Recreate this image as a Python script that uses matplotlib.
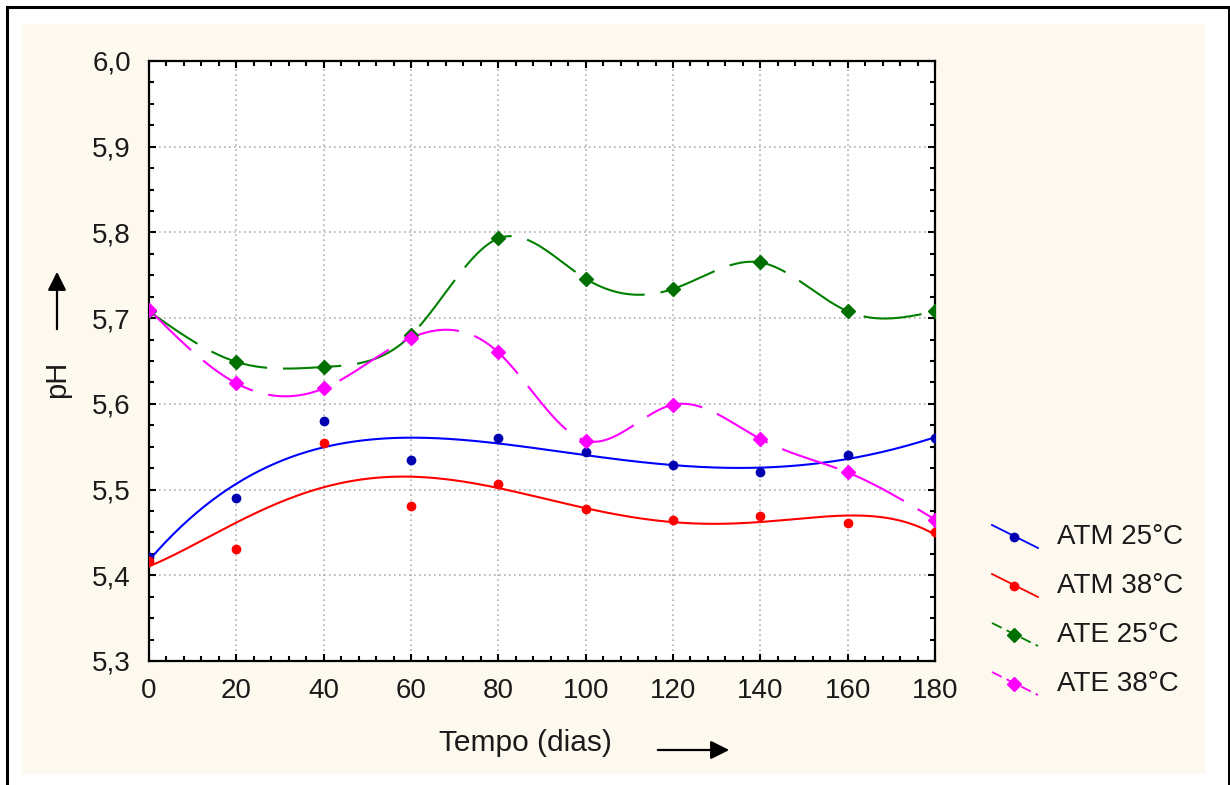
import numpy as np
import matplotlib.pyplot as plt
from matplotlib.lines import Line2D
from matplotlib.patches import Rectangle, FancyArrowPatch
from matplotlib.ticker import MultipleLocator, FuncFormatter

plt.rcParams['font.family'] = ['Liberation Sans', 'DejaVu Sans']

# dados
tempo = np.array([0, 20, 40, 60, 80, 100, 120, 140, 160, 180], dtype=float)
atm_25 = np.array([5.421, 5.490, 5.580, 5.535, 5.560, 5.544, 5.529, 5.520, 5.540, 5.560])
atm_38 = np.array([5.417, 5.431, 5.554, 5.481, 5.506, 5.477, 5.465, 5.469, 5.461, 5.450])
ate_25 = np.array([5.708, 5.649, 5.643, 5.680, 5.793, 5.746, 5.734, 5.765, 5.708, 5.708])
ate_38 = np.array([5.710, 5.624, 5.618, 5.677, 5.660, 5.557, 5.599, 5.559, 5.520, 5.465])

nomes = ['ATM 25°C', 'ATM 38°C', 'ATE 25°C', 'ATE 38°C']
cores = ['#0000ff', '#ff0000', '#008000', '#ff00ff']
cores_pontos = ['#0000b0', '#ff0000', '#007000', '#ff00ff']

W, H = 1230, 785


def fx(px):
    return px / W


def fy(py):
    return 1 - py / H


def spline_natural(x, y, xs):
    '''spline cubica natural (interpolacao pelos pontos)'''
    n = len(x)
    h = np.diff(x)
    A = np.zeros((n, n))
    r = np.zeros(n)
    A[0, 0] = A[-1, -1] = 1
    for i in range(1, n - 1):
        A[i, i-1] = h[i-1]
        A[i, i] = 2 * (h[i-1] + h[i])
        A[i, i+1] = h[i]
        r[i] = 3 * ((y[i+1] - y[i]) / h[i] - (y[i] - y[i-1]) / h[i-1])
    c = np.linalg.solve(A, r)
    b = (y[1:] - y[:-1]) / h - h * (2 * c[:-1] + c[1:]) / 3
    d = (c[1:] - c[:-1]) / (3 * h)
    idx = np.clip(np.searchsorted(x, xs) - 1, 0, n - 2)
    dx = xs - x[idx]
    return y[idx] + b[idx] * dx + c[idx] * dx**2 + d[idx] * dx**3


fig = plt.figure(figsize=(W / 100, H / 100), dpi=100)
fig.patch.set_facecolor('white')

# moldura e fundo creme
fig.add_artist(Rectangle((fx(7), fy(800)), fx(1229) - fx(7), fy(7) - fy(800),
                         transform=fig.transFigure, fill=False,
                         edgecolor='black', lw=2.2, zorder=0))
fig.add_artist(Rectangle((fx(22), fy(774)), fx(1205) - fx(22), fy(24) - fy(774),
                         transform=fig.transFigure, facecolor='#fef9ee',
                         edgecolor='none', zorder=0))

ax = fig.add_axes([fx(149), fy(661), fx(935) - fx(149), fy(61) - fy(661)])
ax.set_facecolor('white')

xs = np.linspace(0, 180, 400)

# ATM: ajuste polinomial, ATE: spline
curvas = [
    np.polyval(np.polyfit(tempo, atm_25, 4), xs),
    np.polyval(np.polyfit(tempo, atm_38, 5), xs),
    spline_natural(tempo, ate_25, xs),
    spline_natural(tempo, ate_38, xs),
]
series = [atm_25, atm_38, ate_25, ate_38]
marcadores = ['o', 'o', 'D', 'D']
tamanhos = [6, 6, 7.5, 7.5]

lw = 1.5
tracos = (42 / lw, 11.5 / lw)
for i in range(4):
    if i < 2:
        ax.plot(xs, curvas[i], color=cores[i], lw=lw, zorder=3)
    else:
        ax.plot(xs, curvas[i], color=cores[i], lw=lw, zorder=3,
                linestyle=(0, tracos))
    ax.plot(tempo, series[i], linestyle='none', marker=marcadores[i],
            ms=tamanhos[i], color=cores_pontos[i], mec=cores_pontos[i], zorder=4)

ax.set_xlim(0, 180)
ax.set_ylim(5.3, 6.0)
ax.xaxis.set_major_locator(MultipleLocator(20))
ax.xaxis.set_minor_locator(MultipleLocator(4))
ax.yaxis.set_major_locator(MultipleLocator(0.1))
ax.yaxis.set_minor_locator(MultipleLocator(0.025))
ax.yaxis.set_major_formatter(FuncFormatter(lambda v, p: f'{v:.1f}'.replace('.', ',')))
ax.grid(True, which='major', color='#b0b0b0', linestyle=(0, (1, 2)), lw=1.2)
ax.tick_params(which='both', direction='in', top=True, right=True, width=1.5,
               colors='black', labelcolor='#1a1a1a', labelsize=20)
ax.tick_params(which='major', length=5)
ax.tick_params(which='minor', length=3.5)
ax.tick_params(axis='y', pad=13)
ax.tick_params(axis='x', pad=12)
for s in ax.spines.values():
    s.set_linewidth(1.6)
    s.set_color('black')

# titulos dos eixos
fig.text(fx(525), fy(743), 'Tempo (dias)', ha='center', va='center',
         fontsize=21.5, color='#1a1a1a')
fig.text(fx(57), fy(379), 'pH', ha='center', va='center', rotation=90,
         fontsize=21, color='#1a1a1a')
fig.add_artist(FancyArrowPatch((fx(655), fy(750)), (fx(732), fy(750)),
                               transform=fig.transFigure, arrowstyle='-|>',
                               mutation_scale=28, lw=1.6, color='black'))
fig.add_artist(FancyArrowPatch((fx(57), fy(332)), (fx(57), fy(269)),
                               transform=fig.transFigure, arrowstyle='-|>',
                               mutation_scale=28, lw=1.6, color='black'))

# legenda com linha diagonal
for i in range(4):
    yc = 537 + i * 49
    estilo = '-' if i < 2 else (0, (6, 3))
    fig.add_artist(Line2D([fx(992), fx(1038)], [fy(yc - 12), fy(yc + 11)],
                          transform=fig.transFigure, color=cores[i], lw=1.3,
                          linestyle=estilo))
    fig.add_artist(Line2D([fx(1014)], [fy(yc)], transform=fig.transFigure,
                          marker=marcadores[i], ms=tamanhos[i], linestyle='none',
                          color=cores_pontos[i]))
    fig.text(fx(1057), fy(yc), nomes[i], ha='left', va='center',
             fontsize=20, color='#1a1a1a')

fig.savefig('out.png', dpi=100, facecolor=fig.get_facecolor())
